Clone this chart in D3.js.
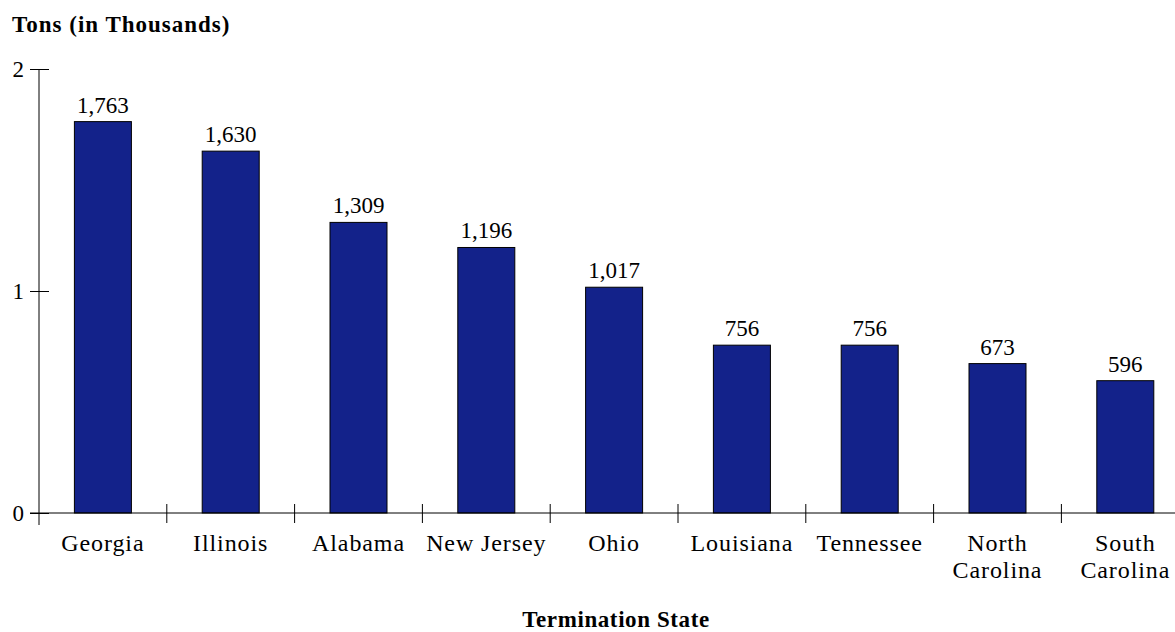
<!DOCTYPE html>
<html lang="en">
<head>
<meta charset="UTF-8">
<title>Termination State</title>
<style>
  body { margin: 0; background: #fff; }
  text { font-family: "Palatino Linotype", "Book Antiqua", Palatino, "Liberation Serif", serif; fill: #000; }
</style>
</head>
<body>
<div id="chart"></div>
<script src="https://d3js.org/d3.v7.min.js"></script>
<script>
const states = ["Georgia", "Illinois", "Alabama", "New Jersey", "Ohio", "Louisiana", "Tennessee", "North Carolina", "South Carolina"];
const tons = [1763, 1630, 1309, 1196, 1017, 756, 756, 673, 596];
const yTicks = [0, 1, 2];

const width = 1175, height = 632;
const left = 39, step = 127.8;

const svg = d3.select("#chart").append("svg")
  .attr("width", width)
  .attr("height", height);

const x = d3.scaleBand()
  .domain(states)
  .range([left, left + step * states.length])
  .paddingInner(0.554)
  .paddingOuter(0.277);

const y = d3.scaleLinear()
  .domain([0, 2])
  .range([513, 69]);

// bars
svg.selectAll(".bar")
  .data(states)
  .enter().append("rect")
  .attr("class", "bar")
  .attr("x", d => x(d))
  .attr("width", x.bandwidth())
  .attr("y", (d, i) => y(tons[i] / 1000))
  .attr("height", (d, i) => y(0) - y(tons[i] / 1000))
  .attr("fill", "#13228a")
  .attr("stroke", "#000")
  .attr("stroke-width", 1);

// value labels
svg.selectAll(".val")
  .data(states)
  .enter().append("text")
  .attr("class", "val")
  .attr("x", d => x(d) + x.bandwidth() / 2)
  .attr("y", (d, i) => y(tons[i] / 1000) - 9)
  .attr("text-anchor", "middle")
  .style("font-size", "23px")
  .text((d, i) => d3.format(",")(tons[i]));

// y axis
const yAxis = svg.append("g")
  .attr("transform", `translate(${left},0)`)
  .call(d3.axisLeft(y).tickValues(yTicks).tickFormat(d3.format("d")).tickSize(0).tickPadding(15));
yAxis.select(".domain").remove();
yAxis.selectAll(".tick line").attr("x1", -9).attr("x2", 10).attr("stroke", "#000");
yAxis.selectAll(".tick text")
  .attr("dy", "0.32em")
  .style("font-size", "23px")
  .style("font-family", null);
yAxis.append("line")
  .attr("x1", 0).attr("x2", 0)
  .attr("y1", y(2)).attr("y2", y(0) + 12)
  .attr("stroke", "#000");

// x axis
svg.append("line")
  .attr("x1", left - 9).attr("x2", width)
  .attr("y1", y(0)).attr("y2", y(0))
  .attr("stroke", "#000");

svg.selectAll(".xtick")
  .data(states.slice(1))
  .enter().append("line")
  .attr("class", "xtick")
  .attr("x1", d => x(d) - x.step() * x.paddingOuter())
  .attr("x2", d => x(d) - x.step() * x.paddingOuter())
  .attr("y1", y(0) - 9).attr("y2", y(0) + 10)
  .attr("stroke", "#000");

const labels = svg.selectAll(".xlab")
  .data(states)
  .enter().append("text")
  .attr("class", "xlab")
  .attr("x", d => x(d) + x.bandwidth() / 2)
  .attr("y", 551)
  .attr("text-anchor", "middle")
  .style("font-size", "24px")
  .style("letter-spacing", "0.9px");

labels.each(function (d) {
  const words = d.indexOf("Carolina") >= 0 ? d.split(" ") : [d];
  const t = d3.select(this);
  words.forEach((w, i) => {
    t.append("tspan")
      .attr("x", x(d) + x.bandwidth() / 2)
      .attr("dy", i === 0 ? 0 : 27)
      .text(w);
  });
});

// titles
svg.append("text")
  .attr("x", 12)
  .attr("y", 32)
  .style("font-size", "23px")
  .style("font-weight", "bold")
  .style("letter-spacing", "1px")
  .text("Tons (in Thousands)");

svg.append("text")
  .attr("x", 616)
  .attr("y", 627)
  .attr("text-anchor", "middle")
  .style("font-size", "23px")
  .style("font-weight", "bold")
  .style("letter-spacing", "0.6px")
  .text("Termination State");
</script>
</body>
</html>
